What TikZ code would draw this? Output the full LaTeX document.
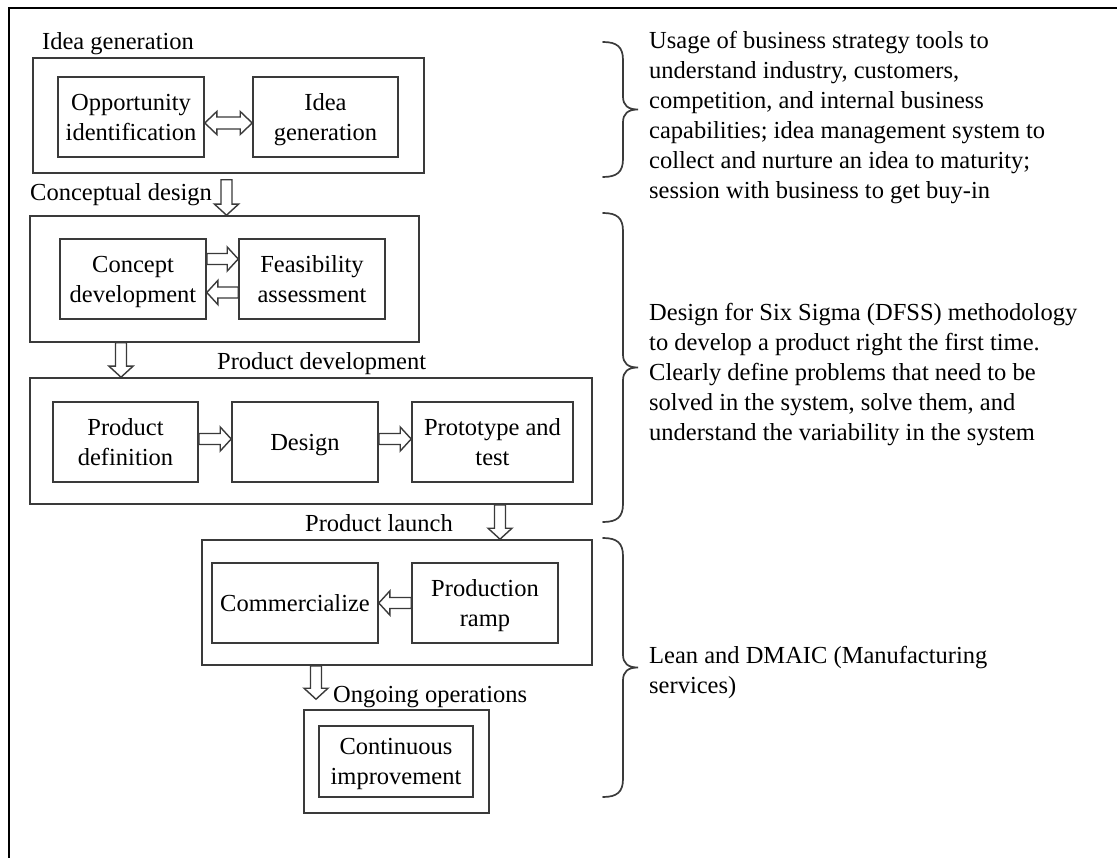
\documentclass[tikz,border=0pt]{standalone}
\usepackage{fontspec}
\setmainfont{Liberation Serif}
\usetikzlibrary{calc}

\definecolor{inkgray}{HTML}{3A3A3A}

\tikzset{
  txt/.style={font=\fontsize{24.5pt}{30pt}\selectfont, text=black},
  stage/.style={draw=inkgray, line width=1.6pt, inner sep=0pt},
  task/.style={stage, txt, align=center, minimum height=80pt, text depth=0pt},
  caption/.style={txt, anchor=base west, inner sep=0pt},
  note/.style={txt, anchor=base west, inner sep=0pt},
  blockarr/.style={draw=inkgray, line width=1.4pt, fill=white, line join=miter},
  brace/.style={draw=inkgray, line width=1.7pt, line cap=round},
  frame/.style={draw=black, line width=2pt}
}

% hollow block arrow from #1 to #2 (head at #2)
\newcommand\blockarrow[2]{%
  \path #1 coordinate (ba-s) #2 coordinate (ba-e);
  \path ($(ba-e)!11pt!(ba-s)$) coordinate (ba-h);
  \draw[blockarr] ($(ba-s)!5.5pt!90:(ba-e)$) -- ($(ba-h)!5.5pt!90:(ba-e)$)
    -- ($(ba-h)!12pt!90:(ba-e)$) -- (ba-e) -- ($(ba-h)!12pt!-90:(ba-e)$)
    -- ($(ba-h)!5.5pt!-90:(ba-e)$) -- ($(ba-s)!5.5pt!-90:(ba-e)$) -- cycle;
}
% hollow block arrow with heads at both ends
\newcommand\dblarrow[2]{%
  \path #1 coordinate (ba-s) #2 coordinate (ba-e);
  \path ($(ba-e)!12pt!(ba-s)$) coordinate (ba-h)
        ($(ba-s)!12pt!(ba-e)$) coordinate (ba-g);
  \draw[blockarr] (ba-s) -- ($(ba-g)!11.5pt!90:(ba-e)$) -- ($(ba-g)!6pt!90:(ba-e)$)
    -- ($(ba-h)!6pt!90:(ba-e)$) -- ($(ba-h)!11.5pt!90:(ba-e)$) -- (ba-e)
    -- ($(ba-h)!11.5pt!-90:(ba-e)$) -- ($(ba-h)!6pt!-90:(ba-e)$)
    -- ($(ba-g)!6pt!-90:(ba-e)$) -- ($(ba-g)!11.5pt!-90:(ba-e)$) -- cycle;
}
% right-hand curly brace between heights #1 and #2
\newcommand\sidebrace[2]{%
  \pgfmathsetmacro\bm{(#1+#2)/2}%
  \draw[brace] (603,#1) .. controls (617,#1) and (623,#1+5) .. (623,#1+18)
    -- (623,\bm-13) .. controls (623,\bm-4) and (628,\bm) .. (638,\bm)
    .. controls (628,\bm) and (623,\bm+4) .. (623,\bm+13)
    -- (623,#2-18) .. controls (623,#2-5) and (617,#2) .. (603,#2);
}

\begin{document}
\begin{tikzpicture}[x=1pt, y=-1pt]
\useasboundingbox (0,0) rectangle (1117,858);
\fill[white] (0,0) rectangle (1117,858);

% page frame
\draw[frame] (9,858) -- (9,8) -- (1117,8);

% ---- Idea generation ----
\node[caption] (cap1) at (42,50) {Idea generation};
\node[stage, minimum width=391pt, minimum height=115pt] (s1) at (228.5,115.5) {};
\node[task, minimum width=146pt] (opp) at (131,117) {Opportunity\\identification};
\node[task, minimum width=145pt] (idg) at (325.5,117) {Idea\\generation};
\dblarrow{($(opp.east)+(0,6)$)}{($(idg.west)+(0,6)$)}

% ---- Conceptual design ----
\node[caption] (cap2) at (30,201) {Conceptual design};
\node[stage, minimum width=389pt, minimum height=126pt] (s2) at (224.5,279) {};
\node[task, minimum width=146pt] (cdev) at (133,279) {Concept\\development};
\node[task, minimum width=146pt] (feas) at (312,279) {Feasibility\\assessment};
\blockarrow{($(s1.south)+(-2,6)$)}{($(s2.north)+(2,0)$)}
\blockarrow{($(cdev.east)+(0,-20)$)}{($(feas.west)+(0,-20)$)}
\blockarrow{($(feas.west)+(0,13.5)$)}{($(cdev.east)+(0,13.5)$)}

% ---- Product development ----
\node[caption] (cap3) at (217,370) {Product development};
\node[stage, minimum width=562pt, minimum height=126pt] (s3) at (311,441) {};
\node[task, minimum width=145pt] (pdef) at (125.5,442) {Product\\definition};
\node[task, minimum width=146pt] (dsgn) at (305,442) {Design};
\node[task, minimum width=161pt] (prot) at (492.5,442) {Prototype and\\test};
\blockarrow{($(s2.south)+(-103.5,0)$)}{($(s3.north)+(-190,0)$)}
\blockarrow{($(pdef.east)+(0,-3)$)}{($(dsgn.west)+(0,-3)$)}
\blockarrow{($(dsgn.east)+(0,-3)$)}{($(prot.west)+(0,-3)$)}

% ---- Product launch ----
\node[caption] (cap4) at (305,531) {Product launch};
\node[stage, minimum width=390pt, minimum height=125pt] (s4) at (397,602.5) {};
\node[task, minimum width=166pt] (comm) at (295,603) {Commercialize};
\node[task, minimum width=146pt] (ramp) at (485,603) {Production\\ramp};
\blockarrow{($(s3.south)+(189,0)$)}{($(s4.north)+(103,0)$)}
\blockarrow{(ramp.west)}{(comm.east)}

% ---- Ongoing operations ----
\node[caption] (cap5) at (333,702) {Ongoing operations};
\node[stage, minimum width=185pt, minimum height=103pt] (s5) at (396.5,761.5) {};
\node[stage, txt, align=center, text depth=0pt, minimum width=154pt, minimum height=71pt] (ci) at (396,761.5) {Continuous\\improvement};
\blockarrow{($(s4.south)+(-81,0)$)}{($(s5.north)+(-80.5,-10)$)}

% ---- method notes ----
\sidebrace{42}{177}
\node[note] (n1) at (649,49) {\begin{tabular}[t]{@{}l@{}}
Usage of business strategy tools to\\
understand industry, customers,\\
competition, and internal business\\
capabilities; idea management system to\\
collect and nurture an idea to maturity;\\
session with business to get buy-in
\end{tabular}};

\sidebrace{213}{522}
\node[note] (n2) at (649,321) {\begin{tabular}[t]{@{}l@{}}
Design for Six Sigma (DFSS) methodology\\
to develop a product right the first time.\\
Clearly define problems that need to be\\
solved in the system, solve them, and\\
understand the variability in the system
\end{tabular}};

\sidebrace{538}{797}
\node[note] (n3) at (649,663) {\begin{tabular}[t]{@{}l@{}}
Lean and DMAIC (Manufacturing\\
services)
\end{tabular}};
\end{tikzpicture}
\end{document}
